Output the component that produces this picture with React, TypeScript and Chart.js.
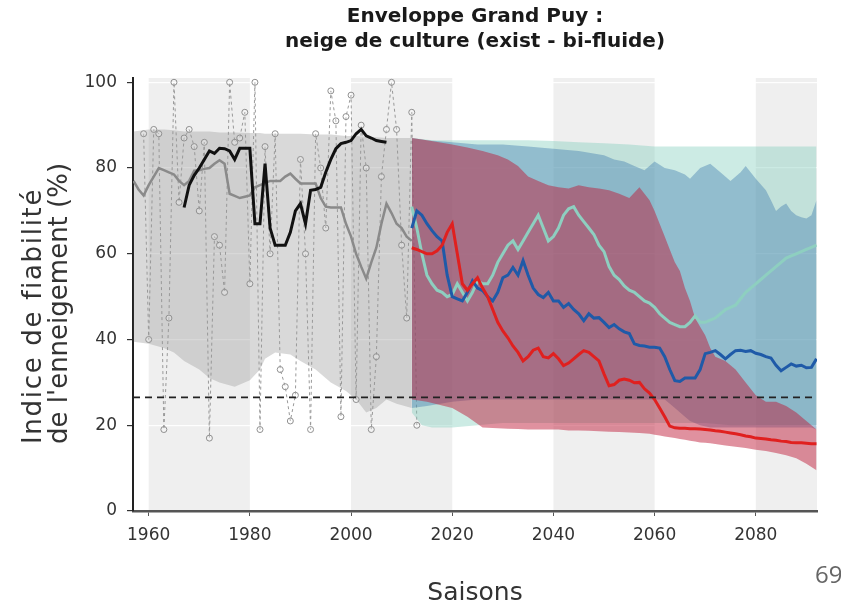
import React, { useEffect, useRef } from 'react';
import { Chart, registerables } from 'chart.js';

Chart.register(...registerables);

const FONT = '"DejaVu Sans", sans-serif';

const TITLE = ['Enveloppe Grand Puy :', 'neige de culture (exist - bi-fluide)'];
const Y_TITLE = ['Indice de fiabilité', "de l'enneigement (%)"];
const X_TITLE = 'Saisons';
const PAGE_NUMBER = '69';

const X_MIN = 1956.9;
const X_MAX = 2092.1;
const Y_MIN = 0;
const Y_MAX = 101;
const Y_TICKS = [0, 20, 40, 60, 80, 100];
const X_TICKS = [1960, 1980, 2000, 2020, 2040, 2060, 2080];
const BAND_STARTS = [1960, 2000, 2040, 2080];
const BAND_SPAN = 20;
const THRESHOLD = 26.5;

// yearly observations (dashed, circles)
const OBS_START = 1959;
const OBS_VALUES = [
  88, 40, 89, 88, 19, 45, 100, 72, 87, 89,
  85, 70, 86, 17, 64, 62, 51, 100, 86, 87,
  93, 53, 100, 19, 85, 60, 88, 33, 29, 21,
  27, 82, 60, 19, 88, 80, 66, 98, 91, 22,
  92, 97, 26, 90, 80, 19, 36, 78, 89, 100,
  89, 62, 45, 93, 20,
];

// historical simulated median (grey line)
const HIST_START = 1957;
const HIST_MEDIAN = [
  77, 75, 73.6, 76, 78, 80, 79.5, 79, 78.5, 77,
  76, 77, 79.4, 79.5, 79.8, 80, 81, 81.8, 81, 74,
  73.5, 73, 73.3, 73.6, 75.5, 76, 76.5, 77, 77, 77,
  78, 78.7, 77.5, 76.4, 76.4, 76.4, 76.4, 73, 71, 70.8,
  70.8, 70.8, 67, 64, 60, 57, 54.2, 58, 61.4, 67,
  71.7, 69.5, 67, 66, 64, 63,
];

// smoothed observations (black line)
const REF_START = 1967;
const REF_LINE = [
  70.8, 76, 78.3, 80, 82, 84, 83.4, 84.6, 84.5, 84,
  82, 84.6, 84.6, 84.6, 67, 67, 81, 66, 62, 62,
  62, 65, 70, 71.7, 67, 74.8, 75, 75.5, 79, 82,
  84.5, 85.7, 86, 86.4, 88, 89, 87.5, 87, 86.4, 86.2,
  86,
];

// historical envelope
const GRAY_YEARS = [1957, 1960, 1963, 1965, 1967, 1970, 1972, 1974, 1977, 1980, 1982, 1983, 1985, 1988, 1990, 1993, 1996, 1999, 2001, 2003, 2005, 2007, 2009, 2012];
const GRAY_LOW = [39.5, 39, 38, 37, 35, 33, 31, 30, 29, 30.5, 33, 35.5, 37, 36.5, 35, 33, 30, 28, 26, 23, 24, 26, 25, 24];
const GRAY_HIGH = [88.5, 89, 89, 88.8, 88.5, 88.5, 88.5, 88.3, 88.3, 88.2, 88.2, 88, 88, 88, 88, 87.8, 87.8, 87.5, 87.5, 87.3, 87.2, 87, 87, 87];

// future envelopes
const TEAL_YEARS = [2012, 2014, 2016, 2020, 2025, 2030, 2035, 2040, 2045, 2050, 2055, 2060, 2065, 2070, 2075, 2080, 2085, 2092];
const TEAL_LOW = [23, 20, 19.5, 19.5, 20, 20.5, 20.5, 20.5, 20.5, 20.5, 20.5, 20.5, 20.5, 20.5, 20, 20, 20, 20];
const TEAL_HIGH = [87, 86.8, 86.5, 86.5, 86.5, 86.5, 86.5, 86.3, 86, 85.8, 85.5, 85, 85, 85, 85, 85, 85, 85];

const BLUE_YEARS = [2012, 2015, 2020, 2025, 2030, 2035, 2040, 2045, 2050, 2052, 2054, 2056, 2058, 2060, 2062, 2064, 2066, 2067, 2069, 2071, 2073, 2075, 2077, 2078, 2080, 2082, 2083, 2084, 2085, 2086, 2087, 2088, 2089, 2090, 2091, 2092];
const BLUE_LOW = [24, 24.5, 25.5, 26, 26, 26, 26, 26, 26, 26, 26, 26, 26, 26, 26, 24, 22, 21, 20, 19.5, 19.5, 19.5, 19.5, 19.5, 19.5, 19.5, 19.5, 19.5, 19.5, 19.5, 19.5, 19.5, 19.5, 19.5, 19.5, 19];
const BLUE_HIGH = [87, 86.5, 86, 85.5, 85.5, 85, 84.5, 84, 83, 82, 81.5, 80.5, 79.5, 81.5, 80, 79.5, 78.5, 77.5, 80, 81, 79, 77, 79, 80.5, 77.5, 74.8, 72.5, 70, 71, 71.7, 70, 69, 68.5, 68.2, 69, 72.5];

const RED_YEARS = [2012, 2015, 2020, 2023, 2026, 2029, 2031, 2033, 2035, 2037, 2039, 2041, 2043, 2045, 2047, 2049, 2051, 2053, 2055, 2057, 2059, 2060, 2061, 2062, 2063, 2064, 2065, 2066, 2067, 2068, 2069, 2070, 2071, 2072, 2074, 2076, 2078, 2080, 2082, 2084, 2086, 2088, 2090, 2092];
const RED_LOW = [26, 25.5, 24, 22, 19.5, 19.3, 19.2, 19.1, 19, 19, 19, 19, 18.8, 18.8, 18.7, 18.6, 18.5, 18.4, 18.3, 18.2, 18, 17.8, 17.6, 17.4, 17.2, 17, 16.8, 16.6, 16.4, 16.2, 16, 15.9, 15.8, 15.6, 15.3, 15, 14.7, 14.3, 14, 13.5, 13, 12.3, 11, 9.5];
const RED_HIGH = [87, 86.5, 85.5, 84.8, 84, 83, 82, 80.5, 78, 77, 76, 75.5, 75.2, 76, 75.5, 75.2, 74.8, 74, 73, 75.5, 72.5, 70, 67, 64, 61, 58, 56, 52, 49, 45, 43, 41, 38, 36, 35, 33, 30, 27, 25.5, 25.5, 24.5, 23, 21, 19];

// future medians (yearly from 2012)
const FUT_START = 2012;
const TEAL_MEDIAN = [
  71, 66, 60, 55, 53, 51.5, 51, 50, 50.5, 53,
  51, 49, 51, 53.7, 53, 53, 55, 58, 60, 62,
  63, 61, 63, 65, 67, 69, 66, 63, 64, 66,
  69, 70.5, 71, 69, 67.5, 66, 64.5, 62, 60.5, 57,
  55, 54, 52.5, 51.5, 51, 50, 49, 48.5, 47.5, 46,
  45, 44, 43.5, 43, 43, 44, 45.5, 44, 44, 44.5,
  45, 46, 47, 47.5, 48, 49.5, 51, 52, 53, 54,
  55, 56, 57, 58, 59, 59.5, 60, 60.5, 61, 61.5, 62,
];
const BLUE_MEDIAN = [
  66, 70, 69, 67, 65.4, 64, 63, 55, 50, 49.5,
  49, 51, 53.7, 52, 51.4, 50, 49, 51, 54.4, 55,
  56.8, 55, 58.4, 55, 52, 50.5, 49.8, 51, 49, 49,
  47.5, 48.4, 47, 46, 44.4, 46, 45, 45.1, 44, 42.8,
  43.5, 42.5, 41.8, 41.4, 39, 38.6, 38.5, 38.2, 38.2, 38,
  36, 33, 30.4, 30.2, 31, 31, 31, 33, 36.7, 37,
  37.4, 36.5, 35.5, 36.5, 37.4, 37.5, 37.2, 37.4, 36.8, 36.5,
  36, 35.7, 34, 32.7, 33.5, 34.3, 33.8, 34, 33.4, 33.5, 35.5,
];
const RED_MEDIAN = [
  61.4, 61, 60.5, 60, 60, 60.7, 62, 65, 67, 60,
  53, 51.5, 53, 54.4, 52, 50, 47, 44, 42, 40.4,
  38.5, 37, 35, 36, 37.5, 38, 36, 35.7, 36.7, 35.5,
  33.9, 34.5, 35.5, 36.5, 37.4, 37, 36, 35, 32, 29.2,
  29.5, 30.5, 30.8, 30.5, 29.9, 30, 28.5, 27.5, 26, 24,
  22, 19.8, 19.4, 19.3, 19.3, 19.2, 19.2, 19.1, 19, 18.9,
  18.7, 18.6, 18.4, 18.2, 18, 17.8, 17.5, 17.3, 17, 16.9,
  16.8, 16.6, 16.5, 16.3, 16.2, 16, 15.9, 15.9, 15.8, 15.7, 15.7,
];

const pairs = (years: number[], vals: number[]) => years.map((x, i) => ({ x, y: vals[i] }));
const yearly = (start: number, vals: number[]) => vals.map((y, i) => ({ x: start + i, y }));

const flat = { pointRadius: 0, tension: 0, borderWidth: 0, borderColor: 'rgba(0,0,0,0)', fill: false };

const decorPlugin = {
  id: 'decor',
  beforeDraw(chart: any) {
    const { ctx, chartArea: a, scales } = chart;
    const x = scales.x;
    ctx.save();
    ctx.beginPath();
    ctx.rect(a.left, a.top, a.right - a.left, a.bottom - a.top);
    ctx.clip();
    ctx.fillStyle = '#efefef';
    BAND_STARTS.forEach((s) => {
      const x0 = x.getPixelForValue(s);
      const x1 = x.getPixelForValue(s + BAND_SPAN);
      ctx.fillRect(x0, a.top, x1 - x0, a.bottom - a.top);
    });
    ctx.restore();
  },
  afterDraw(chart: any) {
    const { ctx, chartArea: a } = chart;
    const cx = (a.left + a.right) / 2;
    ctx.save();
    ctx.fillStyle = '#1a1a1a';
    ctx.textAlign = 'center';
    ctx.textBaseline = 'alphabetic';
    ctx.font = `bold 20px ${FONT}`;
    ctx.fillText(TITLE[0], cx, 22);
    ctx.fillText(TITLE[1], cx, 47);

    ctx.fillStyle = '#333';
    ctx.font = `25px ${FONT}`;
    ctx.fillText(X_TITLE, cx, 600);

    ctx.font = `26px ${FONT}`;
    ctx.textAlign = 'left';
    const baselines = [41, 67];
    const spacing = ['1.7px', '0px'];
    Y_TITLE.forEach((t, i) => {
      ctx.save();
      ctx.letterSpacing = spacing[i];
      ctx.translate(baselines[i], 444);
      ctx.rotate(-Math.PI / 2);
      ctx.fillText(t, 0, 0);
      ctx.restore();
    });
    ctx.restore();
  },
};

export default function App() {
  const ref = useRef<HTMLCanvasElement | null>(null);

  useEffect(() => {
    if (!ref.current) return;
    const datasets: any[] = [
      { ...flat, data: pairs(GRAY_YEARS, GRAY_LOW), order: 100 },
      { ...flat, data: pairs(GRAY_YEARS, GRAY_HIGH), fill: 0, backgroundColor: 'rgba(150,150,150,0.36)', order: 99 },
      {
        data: yearly(OBS_START, OBS_VALUES), order: 98, tension: 0,
        borderColor: '#999999', borderWidth: 1, borderDash: [3, 3],
        pointRadius: 3, pointBackgroundColor: 'rgba(255,255,255,0.25)', pointBorderColor: '#909090', pointBorderWidth: 1,
        fill: false,
      },
      { data: yearly(HIST_START, HIST_MEDIAN), order: 97, pointRadius: 0, borderColor: '#8a8a8a', borderWidth: 2.5, fill: false },
      { data: yearly(REF_START, REF_LINE), order: 96, pointRadius: 0, borderColor: '#111111', borderWidth: 3, fill: false },
      { ...flat, data: pairs(TEAL_YEARS, TEAL_LOW), order: 95 },
      { ...flat, data: pairs(TEAL_YEARS, TEAL_HIGH), fill: 5, backgroundColor: 'rgba(127,205,187,0.4)', order: 94 },
      { ...flat, data: pairs(BLUE_YEARS, BLUE_LOW), order: 93 },
      { ...flat, data: pairs(BLUE_YEARS, BLUE_HIGH), fill: 7, backgroundColor: 'rgba(60,120,172,0.4)', order: 92 },
      { ...flat, data: pairs(RED_YEARS, RED_LOW), order: 91 },
      { ...flat, data: pairs(RED_YEARS, RED_HIGH), fill: 9, backgroundColor: 'rgba(190,25,55,0.48)', order: 90 },
      { data: yearly(FUT_START, TEAL_MEDIAN), order: 89, pointRadius: 0, borderColor: '#8ecfc0', borderWidth: 3, fill: false },
      { data: yearly(FUT_START, BLUE_MEDIAN), order: 88, pointRadius: 0, borderColor: '#1f5aa8', borderWidth: 3, fill: false },
      { data: yearly(FUT_START, RED_MEDIAN), order: 87, pointRadius: 0, borderColor: '#e0201f', borderWidth: 3, fill: false },
      {
        data: [{ x: X_MIN, y: THRESHOLD }, { x: X_MAX, y: THRESHOLD }], order: 86, pointRadius: 0,
        borderColor: '#222', borderWidth: 1.6, borderDash: [7, 5], fill: false,
      },
    ];

    const chart = new Chart(ref.current, {
      type: 'line',
      data: { datasets },
      plugins: [decorPlugin],
      options: {
        responsive: false,
        animation: false,
        devicePixelRatio: 1,
        events: [],
        layout: { padding: { top: 78, right: 24, bottom: 0, left: 0 } },
        plugins: { legend: { display: false }, tooltip: { enabled: false }, title: { display: false } },
        scales: {
          x: {
            type: 'linear', min: X_MIN, max: X_MAX,
            afterBuildTicks: (s: any) => { s.ticks = X_TICKS.map((v) => ({ value: v })); },
            afterFit: (s: any) => { s.height = 92; },
            grid: { drawOnChartArea: false, drawTicks: true, tickLength: 5, tickColor: '#555' },
            border: { color: '#555', width: 2.5 },
            ticks: {
              font: { family: FONT, size: 17 }, color: '#333', padding: 9,
              maxRotation: 0, autoSkip: false, callback: (v: any) => String(v),
            },
          },
          y: {
            type: 'linear', min: Y_MIN, max: Y_MAX,
            afterBuildTicks: (s: any) => { s.ticks = Y_TICKS.map((v) => ({ value: v })); },
            afterFit: (s: any) => { s.width = 133; },
            grid: { color: 'rgba(255,255,255,0.9)', lineWidth: 1.2, tickColor: '#333', tickLength: 6 },
            border: { color: '#222', width: 2 },
            ticks: { font: { family: FONT, size: 17 }, color: '#333', padding: 10, callback: (v: any) => String(v) },
          },
        },
      } as any,
    });
    return () => chart.destroy();
  }, []);

  return (
    <div style={{ position: 'fixed', left: 0, top: 0, width: 841, height: 603, overflow: 'hidden', background: '#fff' }}>
      <canvas ref={ref} width={841} height={603} style={{ display: 'block', width: 841, height: 603 }} />
      <div style={{ position: 'absolute', left: 815, top: 562, fontFamily: '"Open Sans", sans-serif', fontSize: 24, lineHeight: '24px', color: '#666', whiteSpace: 'nowrap' }}>
        {PAGE_NUMBER}
      </div>
    </div>
  );
}
